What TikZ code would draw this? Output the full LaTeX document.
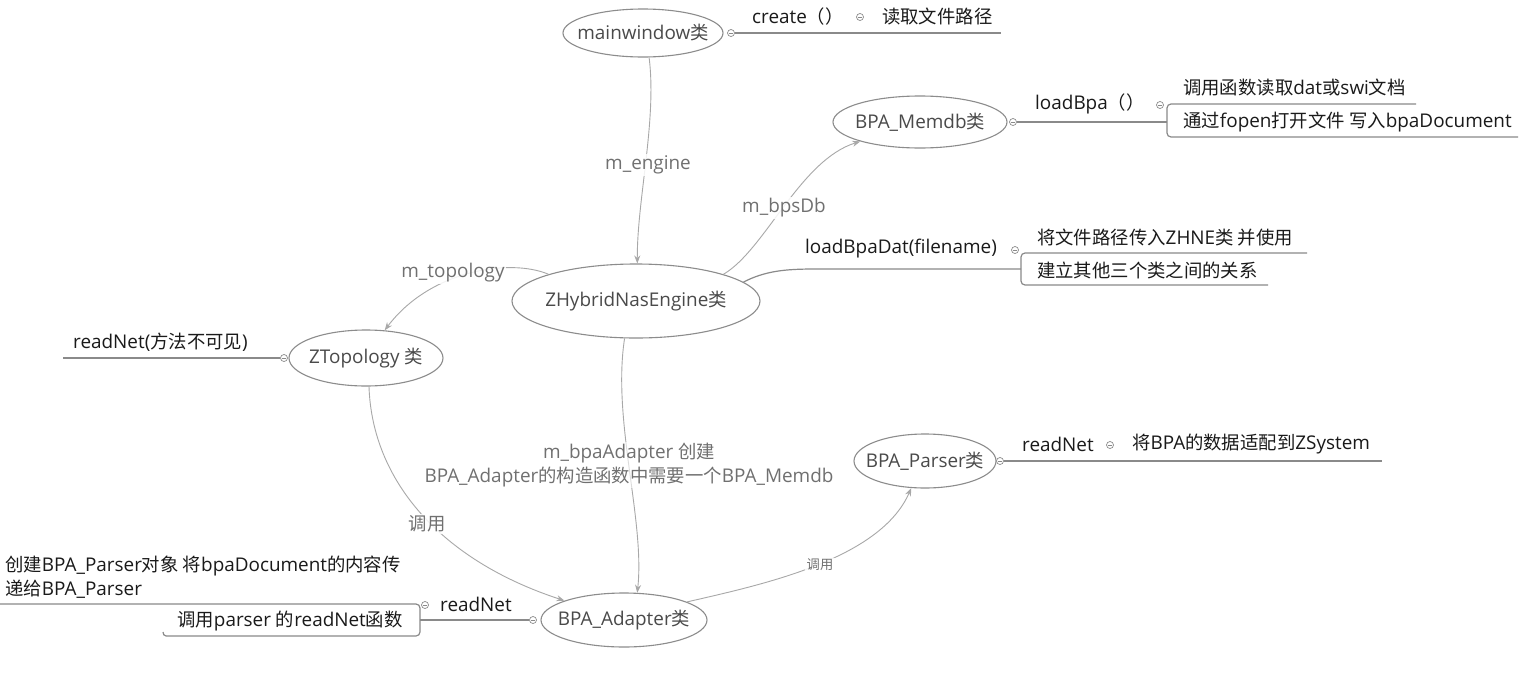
\documentclass[tikz,border=0pt]{standalone}
\usepackage{fontspec}
\setmainfont{Open Sans}[Scale=1.05]
\newfontfamily\cjkf{Noto Sans CJK SC}[Scale=1.02]
\newfontfamily\latf{Open Sans}[Scale=1.05]
\newcount\cjkcnt
\cjkcnt="4E00
\loop\XeTeXcharclass\cjkcnt=1 \ifnum\cjkcnt<"9FFF \advance\cjkcnt by 1 \repeat
\cjkcnt="3000
\loop\XeTeXcharclass\cjkcnt=1 \ifnum\cjkcnt<"303F \advance\cjkcnt by 1 \repeat
\cjkcnt="FF00
\loop\XeTeXcharclass\cjkcnt=1 \ifnum\cjkcnt<"FFEF \advance\cjkcnt by 1 \repeat
\XeTeXinterchartokenstate=1
\XeTeXinterchartoks 0 1 = {\cjkf}
\XeTeXinterchartoks 4095 1 = {\cjkf}
\XeTeXinterchartoks 1 0 = {\latf}
\usetikzlibrary{shapes.geometric,arrows.meta}
\definecolor{ellline}{HTML}{8C8C8C}
\definecolor{elltxt}{HTML}{4A4A4A}
\definecolor{treeline}{HTML}{8A8A8A}
\definecolor{relline}{HTML}{A8A8A8}
\definecolor{rellab}{HTML}{707070}
\definecolor{topictxt}{HTML}{1A1A1A}
\begin{document}
\begin{tikzpicture}[x=1pt,y=-1pt,
  ell/.style={draw=ellline, line width=1.1pt, ellipse, inner sep=0pt},
  elltext/.style={text=elltxt, font=\fontsize{18}{22}\selectfont, inner sep=0pt},
  topic/.style={text=topictxt, font=\fontsize{18}{24}\selectfont, anchor=west, inner sep=0pt, align=left},
  rel/.style={draw=relline, line width=0.9pt, -{Stealth[length=8pt,width=6pt]}},
  rellabel/.style={text=rellab, fill=white, fill opacity=0.85, text opacity=1, font=\fontsize{18}{24}\selectfont, inner sep=1.5pt, align=center},
  tree/.style={draw=treeline, line width=1.2pt},
  marker/.style={circle, draw=treeline, line width=0.7pt, minimum size=7pt, inner sep=0pt, fill=white,
    path picture={\draw[treeline,line width=0.6pt] ([xshift=-2pt]path picture bounding box.center) -- ([xshift=2pt]path picture bounding box.center);}},
]
\fill[white] (0,0) rectangle (1519,678);
\useasboundingbox (0,0) rectangle (1519,678);

% ellipses
\node[ell, minimum width=160pt, minimum height=48pt] (mw) at (643,33) {};
\node[elltext] (mwt) at (mw) {mainwindow类};
\node[ell, minimum width=174pt, minimum height=52pt] (db) at (920,122) {};
\node[elltext] (dbt) at (db) {BPA\_Memdb类};
\node[ell, minimum width=248pt, minimum height=74pt] (zh) at (636,301) {};
\node[elltext] (zht) at (zh) {ZHybridNasEngine类};
\node[ell, minimum width=154pt, minimum height=56pt] (tp) at (366,358) {};
\node[elltext] (tpt) at (tp) {ZTopology 类};
\node[ell, minimum width=142pt, minimum height=54pt] (pa) at (925,461) {};
\node[elltext] (pat) at (pa) {BPA\_Parser类};
\node[ell, minimum width=166pt, minimum height=54pt] (ad) at (624,620) {};
\node[elltext] (adt) at (ad) {BPA\_Adapter类};

% relation label positions
\coordinate (pEng) at (648,165);
\coordinate (pDb) at (784,208);
\coordinate (pTop) at (453,273);
\coordinate (pAd) at (629,465);
\coordinate (pCall1) at (427,524);
\coordinate (pCall2) at (820,565);

% relations
\draw[rel] (mw.-76) .. controls (657,120) and (637,200) .. (zh.88);
\draw[rel] (zh.17) .. controls (765,250) and (800,160) .. (db.198);
\draw[rel] (zh.163) .. controls (510,258) and (430,270) .. (tp.56);
\draw[rel] (zh.-107) .. controls (612,420) and (645,520) .. (ad.64);
\draw[rel] (tp.-84) .. controls (372,480) and (440,560) .. (ad.162);
\draw[rel] (ad.16) .. controls (760,585) and (880,560) .. (pa.-117);

% relation labels on top
\node[rellabel] (lEng) at (pEng) {m\_engine};
\node[rellabel] (lDb) at (pDb) {m\_bpsDb};
\node[rellabel] (lTop) at (pTop) {m\_topology};
\node[rellabel, fill opacity=0.6] (lAd) at (pAd) {m\_bpaAdapter 创建\\BPA\_Adapter的构造函数中需要一个BPA\_Memdb};
\node[rellabel] (lCall1) at (pCall1) {调用};
\node[rellabel, font=\fontsize{13}{16}\selectfont] (lCall2) at (pCall2) {调用};

% mainwindow branch
\node[marker] (mk1) at (731,33) {};
\coordinate (e1) at (1001,33);
\draw[tree] (mk1.east) -- (e1);
\node[topic] (t1) at (752,17) {create（）};
\node[marker] (mk1b) at (860,17) {};
\node[topic] (t1b) at (882,17) {读取文件路径};

% BPA_Memdb branch
\node[marker] (mk2) at (1013,122) {};
\coordinate (j2) at (1167,122);
\coordinate (a2) at (1416,104);
\coordinate (b2) at (1518,137);
\draw[tree] (mk2.east) -- (j2);
\draw[tree, rounded corners=4pt] (a2) -- (1167,104) -- (1167,137) -- (b2);
\node[topic] (t2) at (1035,104) {loadBpa（）};
\node[marker] (mk2b) at (1160,105) {};
\node[topic] (t2a) at (1183,88) {调用函数读取dat或swi文档};
\node[topic] (t2b) at (1183,122) {通过fopen打开文件 写入bpaDocument};

% loadBpaDat branch
\coordinate (j3) at (1021,269);
\draw[tree] (zh.10) .. controls (765,271) and (785,269) .. (815,269) -- (j3);
\coordinate (a3) at (1307,253);
\coordinate (b3) at (1268,285);
\draw[tree, rounded corners=4pt] (a3) -- (1021,253) -- (1021,285) -- (b3);
\node[topic] (t3) at (805,249) {loadBpaDat(filename)};
\node[marker] (mk3) at (1015,250) {};
\node[topic] (t3a) at (1037,238) {将文件路径传入ZHNE类 并使用};
\node[topic] (t3b) at (1037,270) {建立其他三个类之间的关系};

% BPA_Parser branch
\node[marker] (mk4) at (1000,461) {};
\coordinate (e4) at (1382,461);
\draw[tree] (mk4.east) -- (e4);
\node[topic] (t4) at (1022,444) {readNet};
\node[marker] (mk4b) at (1110,445) {};
\node[topic] (t4b) at (1132,444) {将BPA的数据适配到ZSystem};

% ZTopology branch
\node[marker] (mk5) at (284,358) {};
\coordinate (e5) at (63,358);
\draw[tree] (mk5.west) -- (e5);
\node[topic] (t5) at (73,342) {readNet(方法不可见)};

% BPA_Adapter branch
\node[marker] (mk6) at (533,620) {};
\coordinate (j6) at (420,620);
\draw[tree] (mk6.west) -- (j6);
\coordinate (a6) at (0,604);
\coordinate (b6) at (166,636);
\draw[tree, rounded corners=4pt] (a6) -- (420,604) -- (420,636) -- (b6);
\draw[tree] (b6) to[out=180,in=-90] (163,632);
\node[topic] (t6) at (440,604) {readNet};
\node[marker] (mk6b) at (425,605) {};
\node[topic] (t6a) at (5,577) {创建BPA\_Parser对象 将bpaDocument的内容传\\递给BPA\_Parser};
\node[topic] (t6b) at (177,621) {调用parser 的readNet函数};
\end{tikzpicture}
\end{document}
